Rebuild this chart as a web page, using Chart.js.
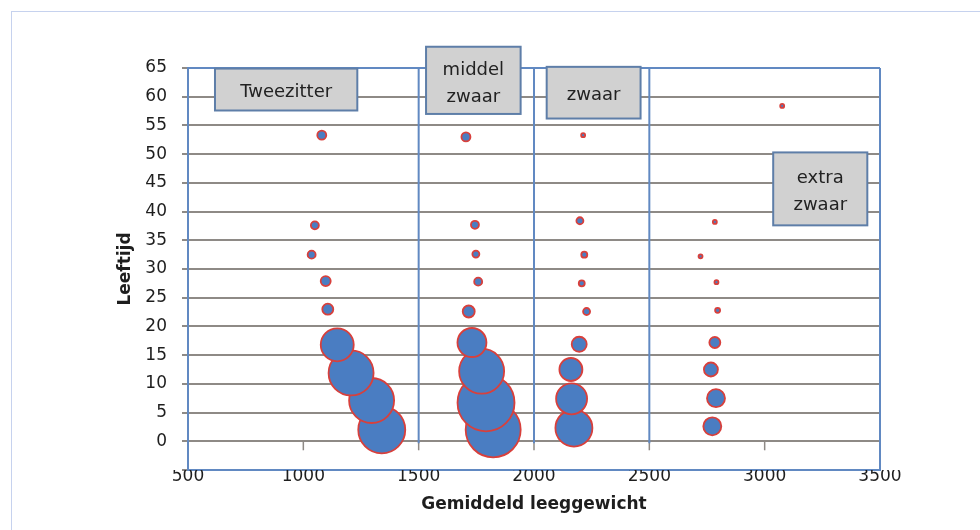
<!DOCTYPE html>
<html>
<head>
<meta charset="utf-8">
<script src="https://cdn.jsdelivr.net/npm/chart.js@4.4.1/dist/chart.umd.min.js"></script>
<style>
  html, body { margin: 0; padding: 0; background: #fff; overflow: hidden; }
  #frame { position: absolute; left: 11px; top: 11px; width: 1000px; height: 600px;
           border-left: 1px solid #c6d2ee; border-top: 1px solid #c6d2ee; }
  #wrap { position: absolute; left: 0; top: 0; width: 980px; height: 530px; }
</style>
</head>
<body>
<div id="frame"></div>
<div id="wrap"><canvas id="myChart"></canvas></div>
<script>
// bubbles per weight class: weight (kg), age (years), bubble radius (px)
const tweeWeight = [1340, 1296, 1207, 1147, 1106, 1097, 1036, 1050, 1080];
const tweeAge    = [2.0, 7.1, 11.9, 16.8, 23.0, 27.9, 32.5, 37.6, 53.3];
const tweeSize   = [23.5, 22.5, 22.5, 16.5, 5.5, 5, 4, 4, 4.5];

const middelWeight = [1823, 1792, 1773, 1731, 1717, 1758, 1748, 1744, 1705];
const middelAge    = [2.0, 6.7, 12.2, 17.2, 22.6, 27.8, 32.6, 37.7, 53.0];
const middelSize   = [27.5, 28.5, 22.5, 14.5, 6, 4, 3.5, 4, 4.5];

const zwaarWeight = [2173, 2163, 2160, 2196, 2228, 2207, 2218, 2199, 2213];
const zwaarAge    = [2.3, 7.4, 12.5, 16.9, 22.6, 27.5, 32.5, 38.4, 53.3];
const zwaarSize   = [18.5, 15.5, 11.5, 7.5, 3.5, 3, 3, 3.5, 2];

const extraWeight = [2773, 2789, 2767, 2784, 2796, 2791, 2722, 2784, 3076];
const extraAge    = [2.6, 7.5, 12.5, 17.2, 22.8, 27.7, 32.2, 38.2, 58.4];
const extraSize   = [9, 9, 7, 5.5, 2.5, 2, 2, 2, 2];

// class boundaries and their labels
const classBounds = [1500, 2000, 2500];
const classLabels = [['Tweezitter'], ['middel', 'zwaar'], ['zwaar'], ['extra', 'zwaar']];
const labelBoxes = [
    {x0: 617, x1: 1234, y0: 57.6, y1: 64.9},
    {x0: 1532, x1: 1942, y0: 57.0, y1: 68.7},
    {x0: 2055, x1: 2462, y0: 56.2, y1: 65.2},
    {x0: 3037, x1: 3445, y0: 37.6, y1: 50.3}
];

const gridGray = '#8e8a86';
const frameBlue = '#6189c2';

function toPoints(w, a, s) {
    return w.map((v, i) => ({x: v, y: a[i], r: s[i]}));
}

function bubbleSet(label, w, a, s) {
    return {
        label: label,
        data: toPoints(w, a, s),
        backgroundColor: '#4a7dc2',
        borderColor: '#d8403c',
        borderWidth: 1.8
    };
}

const frameLines = {
    id: 'frameLines',
    beforeDatasetsDraw(chart) {
        const {ctx, chartArea, scales: {x, y}} = chart;
        const y0 = y.getPixelForValue(0);
        ctx.save();
        ctx.strokeStyle = gridGray;
        ctx.lineWidth = 1.5;
        for (let v = 1000; v <= 3000; v += 500) {
            const px = x.getPixelForValue(v);
            ctx.beginPath(); ctx.moveTo(px, y0); ctx.lineTo(px, y0 + 9); ctx.stroke();
        }
        ctx.strokeStyle = frameBlue;
        ctx.lineWidth = 2;
        classBounds.forEach(v => {
            const px = x.getPixelForValue(v);
            ctx.beginPath(); ctx.moveTo(px, chartArea.top); ctx.lineTo(px, y0 + 2); ctx.stroke();
        });
        ctx.beginPath();
        ctx.moveTo(chartArea.right, chartArea.top);
        ctx.lineTo(chartArea.right, chartArea.bottom);
        ctx.stroke();
        ctx.restore();
    },
    afterDatasetsDraw(chart) {
        const {ctx, scales: {x, y}} = chart;
        ctx.save();
        labelBoxes.forEach((b, i) => {
            const left = x.getPixelForValue(b.x0), right = x.getPixelForValue(b.x1);
            const top = y.getPixelForValue(b.y1), bottom = y.getPixelForValue(b.y0);
            ctx.fillStyle = '#d1d1d1';
            ctx.fillRect(left, top, right - left, bottom - top);
            ctx.strokeStyle = '#5e7ea8';
            ctx.lineWidth = 2;
            ctx.strokeRect(left, top, right - left, bottom - top);
            ctx.fillStyle = '#222';
            ctx.font = '18px "DejaVu Sans"';
            ctx.textAlign = 'center';
            ctx.textBaseline = 'middle';
            const lines = classLabels[i];
            const cx = (left + right) / 2, cy = (top + bottom) / 2 + 3;
            lines.forEach((t, j) => {
                ctx.fillText(t, cx, cy + (j - (lines.length - 1) / 2) * 27);
            });
        });
        ctx.restore();
    }
};

Chart.defaults.font.family = '"DejaVu Sans", sans-serif';
Chart.defaults.color = '#1e1e1e';

new Chart(document.getElementById('myChart'), {
    type: 'bubble',
    data: {
        datasets: [
            bubbleSet('Tweezitter', tweeWeight, tweeAge, tweeSize),
            bubbleSet('middel zwaar', middelWeight, middelAge, middelSize),
            bubbleSet('zwaar', zwaarWeight, zwaarAge, zwaarSize),
            bubbleSet('extra zwaar', extraWeight, extraAge, extraSize)
        ]
    },
    options: {
        responsive: true,
        maintainAspectRatio: false,
        animation: false,
        layout: { padding: {left: 100, right: 100, top: 68, bottom: 0} },
        plugins: {
            legend: { display: false },
            tooltip: { enabled: false }
        },
        scales: {
            x: {
                type: 'linear',
                min: 500,
                max: 3500,
                afterFit: s => { s.height = 60; },
                ticks: {
                    stepSize: 500,
                    padding: -4,
                    font: {size: 17},
                    callback: v => String(v)
                },
                grid: { display: false, drawTicks: false },
                border: { color: frameBlue, width: 2 },
                title: {
                    display: true,
                    text: 'Gemiddeld leeggewicht',
                    font: {size: 17, weight: 'bold'},
                    padding: {top: 0, bottom: 15}
                }
            },
            y: {
                min: -5,
                max: 65,
                afterFit: s => { s.width = 88; },
                ticks: {
                    stepSize: 5,
                    padding: 15,
                    font: {size: 17},
                    callback: v => v < 0 ? '' : String(v)
                },
                grid: {
                    lineWidth: 2,
                    tickLength: 6,
                    tickColor: gridGray,
                    color: c => c.tick.value === 65 ? frameBlue : (c.tick.value < 0 ? 'rgba(0,0,0,0)' : gridGray)
                },
                border: { color: frameBlue, width: 2 },
                title: {
                    display: true,
                    text: 'Leeftijd',
                    font: {size: 17, weight: 'bold'},
                    padding: {top: 15, bottom: 0}
                }
            }
        }
    },
    plugins: [frameLines]
});
</script>
</body>
</html>
